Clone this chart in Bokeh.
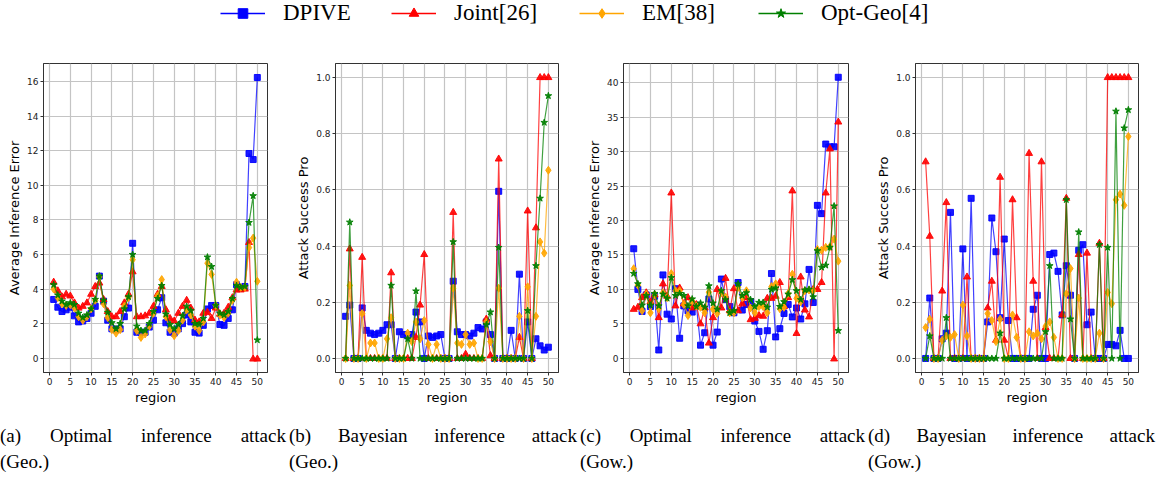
from bokeh.plotting import figure
from bokeh.layouts import column, row
from bokeh.models import (Range1d, FixedTicker, Legend, LegendItem, Div,
                          ColumnDataSource, PrintfTickFormatter)
from bokeh.embed import file_html
from bokeh.resources import INLINE

regions = list(range(1, 51))
series_names = ["DPIVE", "Joint[26]", "EM[38]", "Opt-Geo[4]"]
x_ticks = [0, 5, 10, 15, 20, 25, 30, 35, 40, 45, 50]

# (a) Optimal inference attack (Geo.)
a_dpive = [3.4, 2.95, 2.7, 2.8, 2.95, 2.45, 2.1, 2.15, 2.3, 2.6,
           3.0, 4.75, 3.3, 2.2, 1.7, 1.65, 1.7, 2.4, 2.9, 6.65,
           1.5, 1.5, 1.5, 1.8, 2.2, 2.8, 3.5, 2.05, 1.5, 1.45,
           1.7, 2.0, 2.5, 2.1, 1.5, 1.45, 1.9, 2.85, 3.05, 3.05,
           1.95, 1.9, 2.3, 2.8, 4.25, 4.05, 4.15, 11.85, 11.5, 16.25]
a_joint = [4.4, 3.9, 3.55, 3.7, 3.6, 3.2, 2.9, 3.0, 3.2, 3.7,
           4.15, 4.35, 3.4, 2.7, 2.4, 2.4, 2.7, 3.2, 3.7, 5.0,
           2.4, 2.4, 2.45, 2.6, 3.0, 3.7, 4.15, 2.8, 2.3, 2.15,
           2.6, 3.0, 3.35, 2.9, 2.2, 2.1, 2.6, 2.65, 2.3, 2.9,
           2.55, 2.6, 2.95, 3.5, 3.95, 3.95, 4.0, 6.7, -0.05, -0.05]
a_em = [4.0, 3.5, 3.15, 3.05, 3.1, 2.9, 2.4, 2.2, 2.4, 2.85,
        3.35, 4.7, 3.15, 2.35, 1.65, 1.45, 1.65, 3.0, 3.5, 5.7,
        1.6, 1.2, 1.4, 1.85, 2.6, 3.6, 4.55, 2.4, 1.65, 1.3,
        1.6, 2.2, 2.8, 2.5, 1.85, 1.6, 2.1, 5.5, 4.85, 3.05,
        2.5, 2.35, 2.6, 3.35, 4.4, 4.1, 4.1, 6.4, 6.95, 4.45]
a_opt = [4.25, 3.65, 3.3, 3.1, 3.2, 3.1, 2.6, 2.35, 2.5, 2.85,
         3.4, 4.75, 3.35, 2.65, 2.05, 1.7, 2.0, 2.85, 3.55, 6.0,
         1.85, 1.6, 1.6, 2.0, 2.7, 3.45, 4.2, 2.55, 1.95, 1.7,
         1.95, 2.45, 3.0, 2.75, 2.0, 1.95, 2.3, 5.85, 5.3, 3.05,
         2.6, 2.5, 2.7, 3.45, 4.2, 4.1, 4.15, 7.85, 9.4, 1.05]

# (b) Bayesian inference attack (Geo.)
b_dpive = [0.15, 0.19, 0.0, 0.0, 0.18, 0.10, 0.09, 0.085, 0.09, 0.10,
           0.12, 0.12, 0.0, 0.095, 0.085, 0.08, 0.085, 0.165, 0.13, 0.0,
           0.08, 0.075, 0.08, 0.085, 0.0, 0.0, 0.275, 0.095, 0.085, 0.085,
           0.08, 0.09, 0.11, 0.105, 0.13, 0.085, 0.0, 0.595, 0.0, 0.0,
           0.10, 0.0, 0.30, 0.0, 0.13, 0.0, 0.07, 0.045, 0.03, 0.04]
b_joint = [0.0, 0.39, 0.0, 0.0, 0.36, 0.0, 0.0, 0.0, 0.0, 0.0,
           0.0, 0.305, 0.0, 0.0, 0.0, 0.0, 0.0, 0.075, 0.19, 0.37,
           0.0, 0.0, 0.0, 0.0, 0.0, 0.0, 0.52, 0.0, 0.0, 0.015,
           0.0, 0.0, 0.0, 0.0, 0.14, 0.01, 0.0, 0.71, 0.0, 0.0,
           0.0, 0.0, 0.075, 0.0, 0.525, 0.0, 0.465, 1.0, 1.0, 1.0]
b_em = [0.0, 0.26, 0.0, 0.0, 0.16, 0.0, 0.055, 0.055, 0.0, 0.0,
        0.07, 0.145, 0.0, 0.0, 0.0, 0.09, 0.06, 0.13, 0.07, 0.135,
        0.05, 0.0, 0.05, 0.0, 0.0, 0.0, 0.25, 0.055, 0.05, 0.085,
        0.05, 0.055, 0.0, 0.0, 0.13, 0.06, 0.0, 0.25, 0.0, 0.0,
        0.0, 0.0, 0.15, 0.0, 0.255, 0.0, 0.15, 0.415, 0.375, 0.67]
b_opt = [0.0, 0.485, 0.0, 0.0, 0.0, 0.0, 0.0, 0.0, 0.0, 0.0,
         0.0, 0.26, 0.0, 0.0, 0.0, 0.07, 0.0, 0.24, 0.0, 0.0,
         0.0, 0.0, 0.0, 0.0, 0.0, 0.0, 0.415, 0.0, 0.0, 0.0,
         0.0, 0.0, 0.0, 0.0, 0.12, 0.165, 0.0, 0.395, 0.0, 0.0,
         0.0, 0.0, 0.0, 0.0, 0.17, 0.0, 0.33, 0.57, 0.84, 0.935]

# (c) Optimal inference attack (Gow.)
c_dpive = [15.9, 10.0, 6.8, 9.2, 7.5, 9.0, 1.2, 12.1, 6.4, 5.7,
           10.1, 2.9, 7.6, 6.9, 6.7, 7.7, 1.9, 3.7, 8.6, 1.9,
           3.8, 11.5, 8.5, 7.5, 6.6, 11.0, 7.0, 7.8, 8.2, 5.4,
           3.9, 1.3, 4.0, 12.3, 3.1, 4.3, 6.5, 7.8, 6.0, 7.3,
           5.7, 7.9, 12.9, 8.1, 22.2, 21.0, 31.1, 30.7, 30.7, 40.8]
c_joint = [7.1, 7.4, 8.8, 9.5, 8.2, 9.2, 5.9, 10.8, 9.0, 24.0,
           7.6, 10.2, 7.9, 8.8, 7.3, 7.8, 5.0, 7.3, 2.2, 5.9,
           10.0, 7.3, 11.6, 6.9, 10.1, 6.9, 7.9, 8.8, 5.6, 5.8,
           6.2, 6.1, 8.7, 8.7, 9.0, 11.0, 7.5, 8.8, 24.3, 3.6,
           11.8, 7.0, 6.0, 10.0, 10.0, 11.0, 24.0, 30.4, -0.1, 34.3]
c_em = [13.0, 10.6, 6.9, 9.3, 6.6, 9.2, 7.2, 9.5, 8.8, 12.3,
        9.8, 9.8, 7.8, 6.2, 8.3, 7.6, 7.4, 6.6, 9.6, 7.1,
        6.5, 9.5, 8.9, 6.6, 6.6, 10.3, 8.8, 9.8, 7.3, 6.6,
        7.5, 7.5, 6.6, 10.4, 10.8, 7.2, 7.4, 9.4, 12.2, 8.7,
        8.2, 9.8, 9.9, 9.8, 15.8, 15.7, 16.1, 16.2, 17.3, 14.1]
c_opt = [12.3, 10.8, 7.7, 9.1, 7.7, 9.4, 7.6, 9.3, 8.7, 11.7,
         9.1, 9.4, 9.1, 7.6, 8.6, 7.5, 8.0, 7.4, 10.5, 8.0,
         7.1, 9.8, 8.5, 6.6, 6.9, 10.8, 9.1, 9.5, 8.5, 7.5,
         8.1, 8.1, 7.4, 10.0, 10.2, 7.5, 8.2, 9.3, 11.4, 9.8,
         8.5, 9.9, 10.0, 8.9, 15.6, 13.2, 13.5, 16.1, 22.1, 4.0]

# (d) Bayesian inference attack (Gow.)
d_dpive = [0.0, 0.215, 0.0, 0.0, 0.07, 0.09, 0.52, 0.0, 0.0, 0.39,
           0.0, 0.57, 0.0, 0.0, 0.0, 0.13, 0.50, 0.38, 0.145, 0.425,
           0.135, 0.0, 0.0, 0.0, 0.0, 0.0, 0.175, 0.225, 0.0, 0.0,
           0.37, 0.375, 0.31, 0.155, 0.33, 0.225, 0.0, 0.385, 0.405, 0.12,
           0.165, 0.0, 0.0, 0.0, 0.05, 0.05, 0.045, 0.10, 0.0, 0.0]
d_joint = [0.70, 0.435, 0.0, 0.0, 0.24, 0.555, 0.0, 0.0, 0.0, 0.0,
           0.29, 0.0, 0.0, 0.0, 0.0, 0.18, 0.275, 0.065, 0.645, 0.065,
           0.0, 0.565, 0.145, 0.0, 0.0, 0.73, 0.275, 0.0, 0.70, 0.11,
           0.0, 0.0, 0.0, 0.155, 0.57, 0.0, 0.0, 0.37, 0.0, 0.375,
           0.0, 0.0, 0.41, 0.0, 1.0, 1.0, 1.0, 1.0, 1.0, 1.0]
d_em = [0.11, 0.14, 0.0, 0.0, 0.065, 0.08, 0.075, 0.085, 0.0, 0.19,
        0.08, 0.0, 0.0, 0.0, 0.0, 0.16, 0.135, 0.06, 0.14, 0.0,
        0.0, 0.155, 0.075, 0.0, 0.0, 0.095, 0.08, 0.09, 0.07, 0.115,
        0.13, 0.075, 0.0, 0.0, 0.23, 0.32, 0.0, 0.215, 0.0, 0.0,
        0.0, 0.0, 0.09, 0.0, 0.235, 0.195, 0.565, 0.585, 0.545, 0.79]
d_opt = [0.0, 0.08, 0.0, 0.0, 0.0, 0.145, 0.0, 0.0, 0.0, 0.0,
         0.0, 0.0, 0.0, 0.0, 0.0, 0.0, 0.0, 0.0, 0.09, 0.0,
         0.0, 0.0, 0.0, 0.0, 0.0, 0.0, 0.0, 0.0, 0.0, 0.095,
         0.33, 0.0, 0.0, 0.0, 0.565, 0.14, 0.0, 0.45, 0.0, 0.0,
         0.0, 0.0, 0.405, 0.0, 0.395, 0.0, 0.88, 0.0, 0.82, 0.885]

err_ticks_a = [0, 2, 4, 6, 8, 10, 12, 14, 16]
err_ticks_c = [0, 5, 10, 15, 20, 25, 30, 35, 40]
prob_ticks = [0.0, 0.2, 0.4, 0.6, 0.8, 1.0]

captions = [("(a)", "Optimal", "inference", "attack", "(Geo.)"),
            ("(b)", "Bayesian", "inference", "attack", "(Geo.)"),
            ("(c)", "Optimal", "inference", "attack", "(Gow.)"),
            ("(d)", "Bayesian", "inference", "attack", "(Gow.)")]

colors = ["#0000ff", "#ff0000", "#ffa500", "#008000"]
markers = ["square", "triangle", "diamond", "star"]
msizes = [6, 7, 8, 7]

SERIF = "Liberation Serif"
SANS = "DejaVu Sans"


def make_panel(series, yrange, yticks, ylabel, width, lb, rb, fmt=None):
    p = figure(width=width, height=356, x_range=Range1d(-1.45, 52.45),
               y_range=Range1d(*yrange), toolbar_location=None,
               output_backend="svg", min_border_left=lb, min_border_right=rb,
               min_border_top=12, min_border_bottom=34)
    for vals, c, m, s in zip(series, colors, markers, msizes):
        src = ColumnDataSource(dict(x=regions, y=vals))
        p.line("x", "y", source=src, color=c, line_width=1.2, line_alpha=0.75)
        p.scatter("x", "y", source=src, marker=m, size=s, color=c,
                  line_color=c, fill_alpha=0.9, line_alpha=0.9)
    p.xaxis.ticker = FixedTicker(ticks=x_ticks)
    p.yaxis.ticker = FixedTicker(ticks=yticks)
    if fmt:
        p.yaxis.formatter = PrintfTickFormatter(format=fmt)
    p.xaxis.axis_label = "region"
    p.yaxis.axis_label = ylabel
    for ax in (p.xaxis[0], p.yaxis[0]):
        ax.axis_label_text_font = SANS
        ax.axis_label_text_font_size = "13px"
        ax.axis_label_text_font_style = "normal"
        ax.axis_label_text_color = "black"
        ax.axis_label_standoff = 2
        ax.major_label_text_font = SANS
        ax.major_label_text_font_size = "9px"
        ax.major_label_text_color = "#222222"
        ax.major_label_standoff = 2
        ax.major_tick_out = 3
        ax.major_tick_in = 0
        ax.minor_tick_out = 0
        ax.minor_tick_in = 0
        ax.axis_line_color = "#333333"
        ax.major_tick_line_color = "#333333"
    p.grid.grid_line_color = "#c4c4c4"
    p.grid.grid_line_width = 1.2
    p.outline_line_color = "#333333"
    p.outline_line_width = 1
    p.background_fill_color = "white"
    p.border_fill_color = "white"
    return p


pa = make_panel([a_dpive, a_joint, a_em, a_opt], (-0.83, 17.06), err_ticks_a,
                "Average Inference Error", 287, 43, 20)
pb = make_panel([b_dpive, b_joint, b_em, b_opt], (-0.05, 1.05), prob_ticks,
                "Attack Success Pro", 288, 48, 17, "%.1f")
pc = make_panel([c_dpive, c_joint, c_em, c_opt], (-2.07, 42.8), err_ticks_c,
                "Average Inference Error", 292, 48, 19)
pd = make_panel([d_dpive, d_joint, d_em, d_opt], (-0.05, 1.05), prob_ticks,
                "Attack Success Pro", 293, 48, 22, "%.1f")

# legend strip
leg = figure(width=1160, height=51, x_range=Range1d(0, 1), y_range=Range1d(0, 1),
             toolbar_location=None, output_backend="svg", min_border=0,
             outline_line_color=None)
leg.axis.visible = False
leg.grid.visible = False
legend_x = [220, 391, 579, 758]
for name, c, m, lx in zip(series_names, colors, markers, legend_x):
    src = ColumnDataSource(dict(x=[float("nan")], y=[float("nan")]))
    rl = leg.line("x", "y", source=src, color=c, line_width=1.5)
    rs = leg.scatter("x", "y", source=src, marker=m, size=9, color=c)
    lg = Legend(items=[LegendItem(label=name, renderers=[rl, rs])],
                location=(lx, 25), label_text_font=SERIF,
                label_text_font_size="23px", label_text_color="black",
                glyph_width=45, glyph_height=24, label_height=24,
                label_standoff=18, padding=0, margin=0,
                border_line_color=None, background_fill_alpha=0)
    leg.add_layout(lg)

div_widths = [289, 291, 288, 292]
inner_widths = [286, 288, 285, 287]
divs = []
for cap, w, iw in zip(captions, div_widths, inner_widths):
    first = "".join(f"<span>{t}</span>" for t in cap[:4])
    html = (f"<div style='display:flex;justify-content:space-between;width:{iw}px'>{first}</div>"
            f"<div>{cap[4]}</div>")
    divs.append(Div(text=html, width=w, height=68, margin=0,
                    styles={"font-family": SERIF, "font-size": "19px",
                            "line-height": "26px", "padding-top": "16px",
                            "color": "black"}))

layout = column(leg, row(pa, pb, pc, pd), row(*divs))
open("out.html", "w").write(file_html(layout, INLINE))
